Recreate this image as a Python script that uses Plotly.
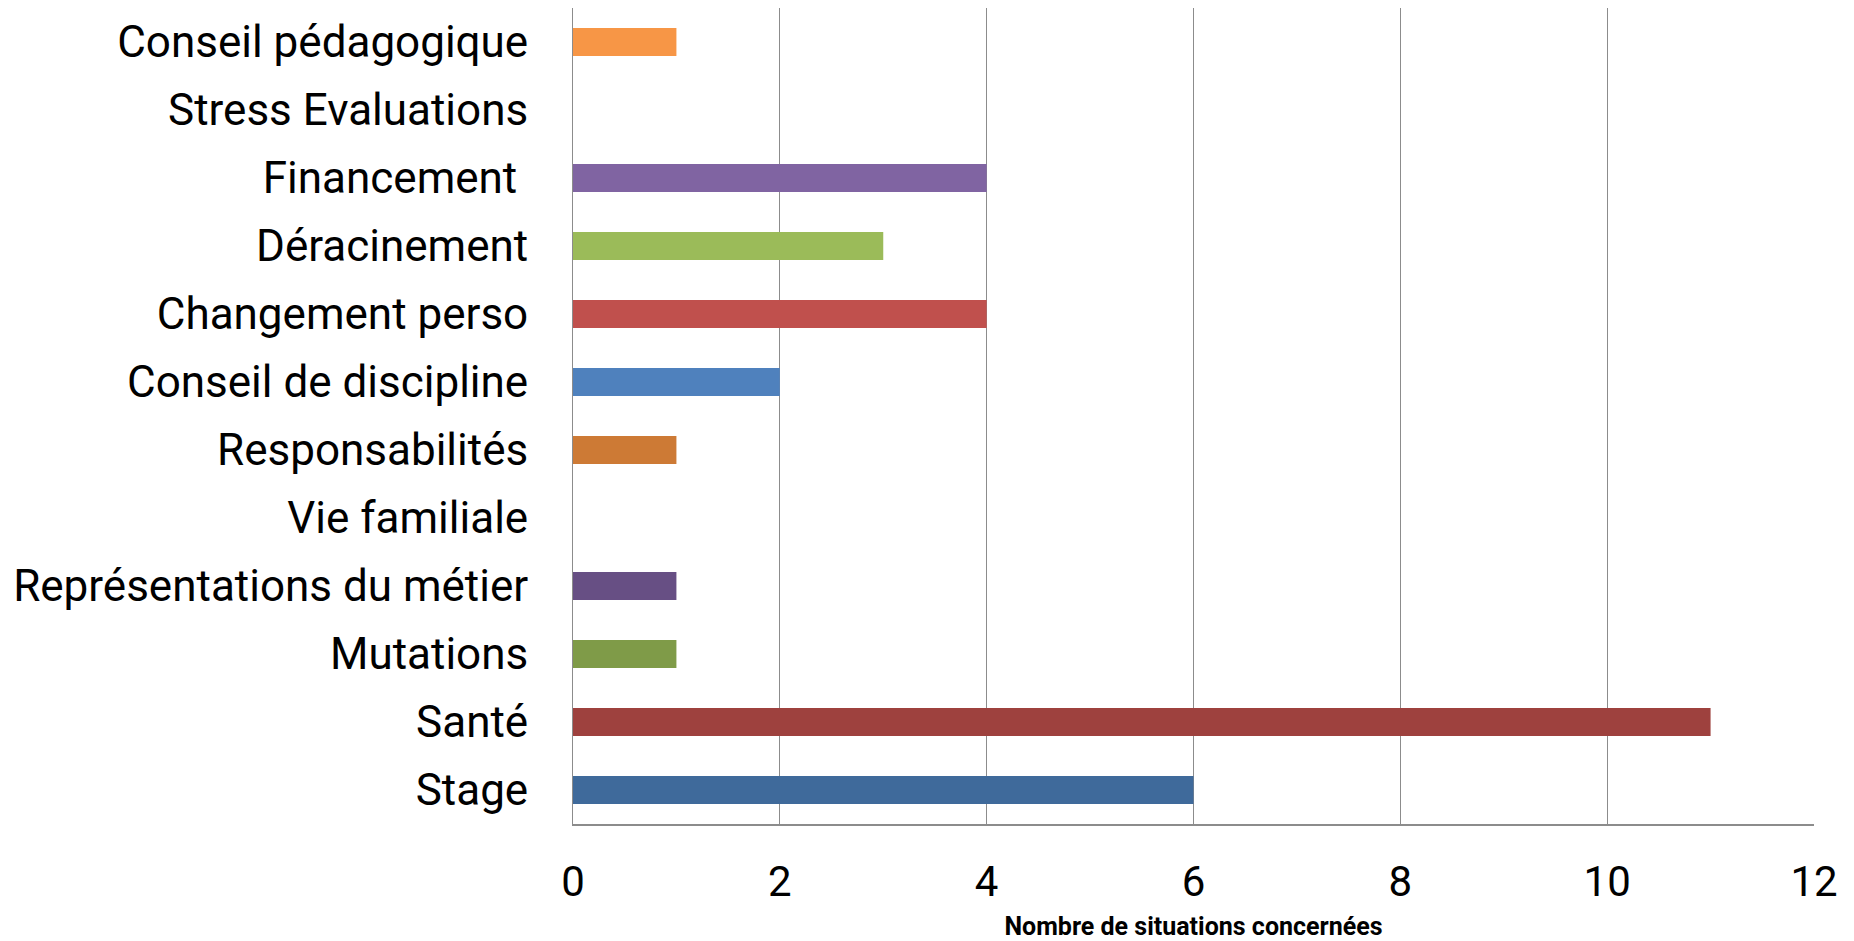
import plotly.graph_objects as go

categories = ["Conseil pédagogique", "Stress Evaluations", "Financement\u00a0", "Déracinement",
              "Changement perso", "Conseil de discipline", "Responsabilités", "Vie familiale",
              "Représentations du métier", "Mutations", "Santé", "Stage"]
values = [1, 0, 4, 3, 4, 2, 1, 0, 1, 1, 11, 6]
colors = ["#F79646", "#4BACC6", "#8064A2", "#9BBB59", "#C0504D", "#4F81BD",
          "#CD7A35", "#3C91A8", "#674F84", "#7F9B48", "#9E413E", "#3F6A9B"]
x_ticks = [0, 2, 4, 6, 8, 10, 12]

FONT = "Roboto, sans-serif"

fig = go.Figure(go.Bar(
    x=values, y=categories, orientation="h",
    marker=dict(color=colors, line=dict(width=0)),
    width=0.41,
))

fig.update_layout(
    width=1854, height=941,
    margin=dict(l=573, r=40, t=8, b=117),
    paper_bgcolor="white", plot_bgcolor="white",
    showlegend=False,
    font=dict(family=FONT, color="black"),
)
fig.update_xaxes(
    range=[0, 12], tickvals=x_ticks, ticktext=[str(v) for v in x_ticks],
    showgrid=True, gridcolor="#8C8C8C", gridwidth=1,
    showline=True, linecolor="#8C8C8C", linewidth=2,
    zeroline=False, ticks="", ticklabelstandoff=20, automargin=False,
    tickfont=dict(size=42, family=FONT),
    title=dict(text="<b>Nombre de situations concernées</b>", font=dict(size=25, family=FONT), standoff=28),
)
fig.update_yaxes(
    type="category", categoryorder="array", categoryarray=categories,
    range=[11.5, -0.5], automargin=False,
    showgrid=False, showline=True, linecolor="#8C8C8C", linewidth=1,
    zeroline=False, ticks="", ticklabelstandoff=35,
    tickfont=dict(size=44, family=FONT),
)

fig.write_html(
    "out.html",
    config={"displayModeBar": False},
    post_script="document.body.style.margin='0';document.body.style.overflow='hidden';",
)
